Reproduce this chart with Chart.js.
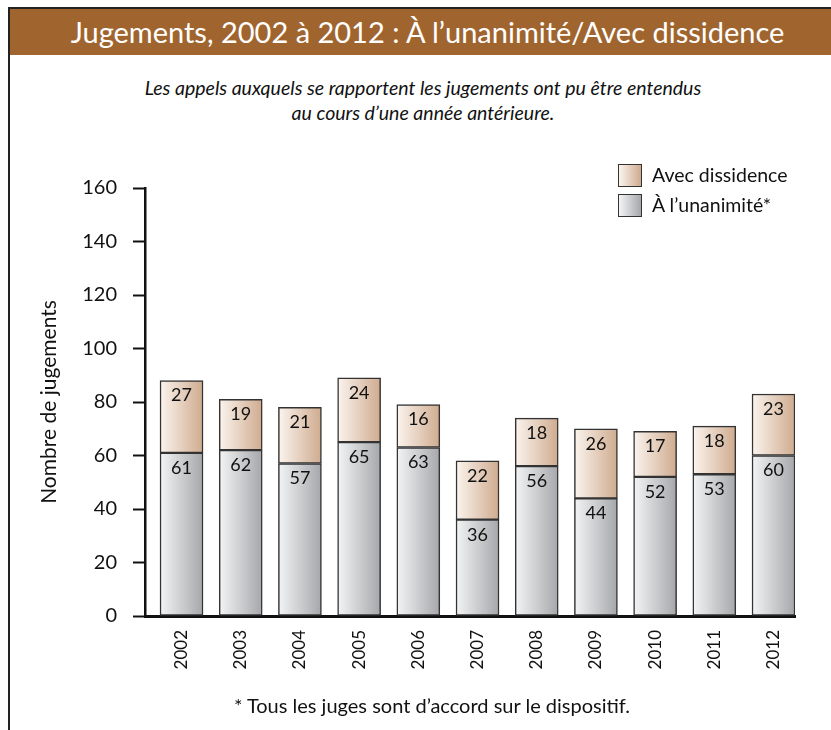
<!DOCTYPE html>
<html>
<head>
<meta charset="utf-8">
<script src="https://cdn.jsdelivr.net/npm/chart.js@4/dist/chart.umd.min.js"></script>
<style>
  body { margin: 0; background: #fff; font-family: Lato, "Open Sans", sans-serif; }
  #wrap { position: relative; width: 831px; height: 730px; overflow: hidden; }
  #frame { position: absolute; left: 8px; top: 7px; width: 900px; height: 800px;
           border-left: 2px solid #222; border-top: 2px solid #222; }
  #header { position: absolute; left: 10px; top: 9px; width: 821px; height: 46px;
            background: #a0652f; color: #fff; font-size: 29px; line-height: 46px;
            text-align: center; }
  #header span { display: inline-block; transform: translateX(7px); }
  #sub { position: absolute; left: 0; top: 75px; width: 846px; text-align: center;
         font-style: italic; font-size: 19.5px; line-height: 25px; color: #111; }
  #foot { position: absolute; left: 0; top: 693px; width: 864px; text-align: center;
          font-size: 20px; color: #111; }
  #legend { position: absolute; left: 618px; top: 164px; font-size: 19.5px; color: #111; }
  .item { position: relative; height: 30px; }
  .box { position: absolute; left: 0; top: 0; width: 22px; height: 21px; border: 1.5px solid #333; }
  .lab { position: absolute; left: 34px; top: 0; white-space: nowrap; line-height: 22px; }
  canvas { position: absolute; left: 0; top: 0; }
</style>
</head>
<body>
<div id="wrap">
  <div id="frame"></div>
  <div id="header"><span>Jugements, 2002 à 2012 : À l’unanimité/Avec dissidence</span></div>
  <div id="sub">Les appels auxquels se rapportent les jugements ont pu être entendus<br>au cours d’une année antérieure.</div>
  <canvas id="chart" width="831" height="730"></canvas>
  <div id="legend">
    <div class="item"><div class="box" style="background: linear-gradient(to right, #fbf4ee, #cfab8f)"></div><div class="lab">Avec dissidence</div></div>
    <div class="item"><div class="box" style="background: linear-gradient(to right, #f3f4f5, #a6a7aa)"></div><div class="lab">À l’unanimité*</div></div>
  </div>
  <div id="foot">* Tous les juges sont d’accord sur le dispositif.</div>
</div>
<script>
const years = ['2002', '2003', '2004', '2005', '2006', '2007', '2008', '2009', '2010', '2011', '2012'];
const unanimous = [61, 62, 57, 65, 63, 36, 56, 44, 52, 53, 60];
const dissent = [27, 19, 21, 24, 16, 22, 18, 26, 17, 18, 23];
const yTicks = [0, 20, 40, 60, 80, 100, 120, 140, 160];

const BAR_W = 43;

function gradFill(left, right) {
  return (context) => {
    const chart = context.chart;
    const x = chart.scales && chart.scales.x;
    if (!chart.chartArea || !x || context.dataIndex === undefined) return right;
    const cx = x.getPixelForValue(context.dataIndex);
    const g = chart.ctx.createLinearGradient(cx - BAR_W / 2, 0, cx + BAR_W / 2, 0);
    g.addColorStop(0, left);
    g.addColorStop(1, right);
    return g;
  };
}

// value labels drawn just under the top of each segment
const segmentLabels = {
  id: 'segmentLabels',
  afterDatasetsDraw(chart) {
    const ctx = chart.ctx;
    ctx.save();
    ctx.font = '18px Lato';
    ctx.fillStyle = '#111';
    ctx.textAlign = 'center';
    ctx.textBaseline = 'middle';
    chart.data.datasets.forEach((ds, di) => {
      chart.getDatasetMeta(di).data.forEach((bar, i) => {
        ctx.fillText(ds.data[i].y, bar.x, bar.y + 15);
      });
    });
    ctx.restore();
  }
};

new Chart(document.getElementById('chart'), {
  type: 'bar',
  data: {
    datasets: [
      {
        label: 'À l’unanimité*',
        data: unanimous.map((v, i) => ({ x: i, y: v })),
        backgroundColor: gradFill('#f3f4f5', '#a6a7aa'),
        borderColor: '#333',
        borderWidth: 1.5,
        borderSkipped: false,
        barThickness: BAR_W,
      },
      {
        label: 'Avec dissidence',
        data: dissent.map((v, i) => ({ x: i, y: v })),
        backgroundColor: gradFill('#fbf4ee', '#cfab8f'),
        borderColor: '#333',
        borderWidth: 1.5,
        borderSkipped: false,
        barThickness: BAR_W,
      },
    ],
  },
  plugins: [segmentLabels],
  options: {
    responsive: false,
    animation: false,
    layout: { padding: { top: 188, right: 36, left: 0, bottom: 0 } },
    plugins: { legend: { display: false }, tooltip: { enabled: false } },
    scales: {
      x: {
        type: 'linear',
        stacked: true,
        offset: false,
        min: -0.617,
        max: 10.363,
        afterFit: (s) => { s.height = 114; },
        afterBuildTicks: (s) => { s.ticks = years.map((_, i) => ({ value: i })); },
        grid: { display: false, drawTicks: false, offset: false },
        border: { color: '#111', width: 3 },
        ticks: {
          callback: (v) => years[v],
          autoSkip: false,
          minRotation: 90,
          maxRotation: 90,
          padding: 14,
          color: '#111',
          font: { family: 'Lato', size: 17 },
        },
      },
      y: {
        stacked: true,
        min: 0,
        max: 160,
        afterFit: (s) => { s.width = 145; },
        afterBuildTicks: (s) => { s.ticks = yTicks.map((v) => ({ value: v })); },
        grid: { drawOnChartArea: false, tickLength: 12, tickColor: '#111', tickWidth: 2 },
        border: { color: '#111', width: 2.5 },
        ticks: { padding: 16, color: '#111', font: { family: 'Lato', size: 20 } },
        title: {
          display: true,
          text: 'Nombre de jugements',
          color: '#111',
          font: { family: 'Lato', size: 21 },
          padding: { top: 37, bottom: 0 },
        },
      },
    },
  },
});
</script>
</body>
</html>
